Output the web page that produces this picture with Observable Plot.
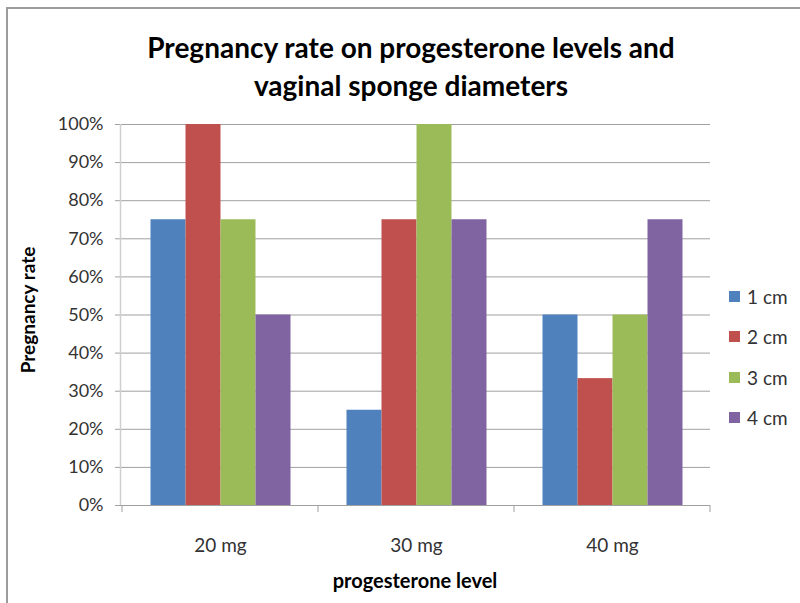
<!DOCTYPE html>
<html><head><meta charset="utf-8">
<script src="https://cdn.jsdelivr.net/npm/d3@7"></script>
<script src="https://cdn.jsdelivr.net/npm/@observablehq/plot@0.6"></script>
<style>
body{margin:0;background:#fff;}
#wrap{position:relative;width:800px;height:603px;overflow:hidden;font-family:Lato,"Open Sans",sans-serif;background:#fff;}
#frame{position:absolute;left:6px;top:7px;width:900px;height:700px;border-left:2px solid #9c9c9c;border-top:2px solid #9c9c9c;pointer-events:none;}
#chart{position:absolute;left:0;top:0;}
#title{position:absolute;left:0;width:822px;top:28px;text-align:center;font-weight:bold;font-size:28px;line-height:38px;color:#000;}
#ylabel{position:absolute;left:27px;top:310px;transform:translate(-50%,-50%) rotate(-90deg);font-weight:bold;font-size:19px;color:#000;white-space:nowrap;}
#xlabel{position:absolute;left:415px;top:580px;transform:translate(-50%,-50%);font-weight:bold;font-size:20px;color:#000;white-space:nowrap;}
#legend{position:absolute;left:729px;top:276px;}
.item{display:flex;align-items:center;height:40.5px;font-size:19px;color:#333;}
.sw{width:11px;height:11px;margin-right:7px;}
</style></head>
<body>
<div id="wrap">
  <div id="chart"></div>
  <div id="frame"></div>
  <div id="title">Pregnancy rate on progesterone levels and<br>vaginal sponge diameters</div>
  <div id="ylabel">Pregnancy rate</div>
  <div id="xlabel">progesterone level</div>
  <div id="legend"></div>
</div>
<script>
const levels = ["20 mg", "30 mg", "40 mg"];
const sizes = ["1 cm", "2 cm", "3 cm", "4 cm"];
const colors = ["#4F81BD", "#C0504D", "#9BBB59", "#8064A2"];
const rate1cm = [0.75, 0.25, 0.50];
const rate2cm = [1.00, 0.75, 0.333];
const rate3cm = [0.75, 1.00, 0.50];
const rate4cm = [0.50, 0.75, 0.75];
const yTicks = [0, 0.1, 0.2, 0.3, 0.4, 0.5, 0.6, 0.7, 0.8, 0.9, 1.0];
const yTickLabels = ["0%", "10%", "20%", "30%", "40%", "50%", "60%", "70%", "80%", "90%", "100%"];

const series = [rate1cm, rate2cm, rate3cm, rate4cm];
const rows = levels.flatMap((lv, i) => sizes.map((s, j) => ({level: lv, size: s, rate: series[j][i]})));

const plot = Plot.plot({
  width: 800,
  height: 603,
  marginLeft: 120.5,
  marginRight: 89,
  marginTop: 124,
  marginBottom: 98,
  style: {fontFamily: "Lato, 'Open Sans', sans-serif", fontSize: "18px", color: "#333", background: "transparent"},
  fx: {domain: levels, padding: 0, label: null},
  x: {domain: sizes, paddingInner: 0, paddingOuter: 0.73, axis: null},
  y: {domain: [0, 1]},
  color: {domain: sizes, range: colors},
  marks: [
    Plot.gridY(yTicks, {stroke: "#a0a0a0", strokeOpacity: 1}),
    Plot.barY(rows, {fx: "level", x: "size", y: "rate", fill: "size"}),
    Plot.axisY(yTicks, {tickSize: 7, tickPadding: 12, stroke: "#a0a0a0", fill: "#333", label: null, fontSize: 18,
      tickFormat: d => yTickLabels[yTicks.indexOf(d)]}),
    Plot.axisFx({anchor: "bottom", tickSize: 0, tickPadding: 33, label: null, fill: "#333", fontSize: 19})
  ]
});
document.getElementById("chart").appendChild(plot);

// axis line and category boundary ticks from the plot's own scales
const fx = plot.scale("fx");
const y = plot.scale("y");
const svg = d3.select(plot);
const x0 = fx.range[0];
svg.append("line").attr("x1", x0).attr("x2", x0).attr("y1", y.apply(1)).attr("y2", y.apply(0))
  .attr("stroke", "#cfcfcf").attr("stroke-width", 1.5);
const bounds = levels.map(l => fx.apply(l)).concat([fx.apply(levels[levels.length - 1]) + fx.bandwidth]);
svg.selectAll("line.bt").data(bounds).join("line").attr("class", "bt")
  .attr("x1", d => d).attr("x2", d => d).attr("y1", y.apply(0)).attr("y2", y.apply(0) + 7)
  .attr("stroke", "#a0a0a0");

const legend = d3.select("#legend");
sizes.forEach((s, i) => {
  const it = legend.append("div").attr("class", "item");
  it.append("div").attr("class", "sw").style("background", colors[i]);
  it.append("span").text(s);
});
</script>
</body></html>
